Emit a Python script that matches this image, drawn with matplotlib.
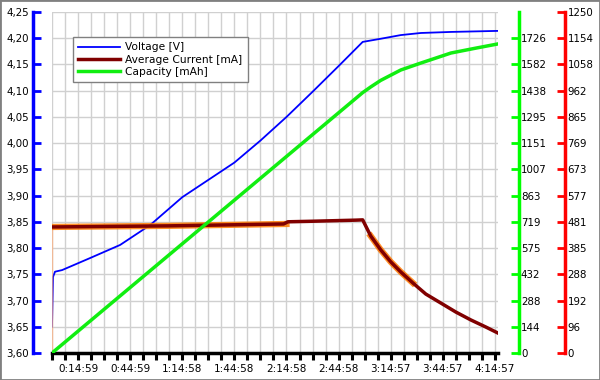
import numpy as np
import matplotlib.pyplot as plt
from matplotlib.patches import Rectangle

# time axis in seconds
volt_t = [0, 35, 104, 346, 1316, 2354, 3393, 4500, 5401, 6301, 7201, 8101, 9001, 9901, 10732,
          11355, 12048, 12740, 13779, 15406]
volt_v = [3.650, 3.745, 3.755, 3.758, 3.781, 3.806, 3.844, 3.897, 3.930, 3.963, 4.005, 4.050,
          4.098, 4.147, 4.193, 4.199, 4.206, 4.210, 4.212, 4.214]

# average current [mA]
cur_t = [0, 4000, 8000, 8150, 9000, 10500, 10732, 11009, 11355, 11702, 12048, 12463, 12913, 13433, 13952, 14471, 14990, 15406]
cur_ma = [462, 466, 473, 481, 483, 487, 488, 429, 378, 334, 297, 257, 216, 183, 150, 121, 95, 73]

# raw current (orange band, only where it shows)
raw_t1 = [0, 4000, 8100]
raw_ma1 = [462, 466, 473]
raw_t2 = [11009, 11355, 11702, 12048, 12463]
raw_ma2 = [429, 378, 334, 297, 257]

# capacity [mAh]
cap_t = [0, 10732, 11009, 11355, 12048, 12740, 13779, 14644, 15406]
cap_mah = [0, 1428, 1459, 1495, 1552, 1590, 1645, 1672, 1695]

x_labels = ['0:14:59', '0:44:59', '1:14:58', '1:44:58', '2:14:58',
            '2:44:58', '3:14:57', '3:44:57', '4:14:57']

t_end = 15406
v_min, v_max = 3.60, 4.25
cap_max = 1870
cur_max = 1250
n_div = 13
fs = 7.4

fig = plt.figure(figsize=(6, 3.8), dpi=100)
ax = fig.add_axes([52/600, 1-353/380, (498-52)/600, (353-12)/380])
ax_cur = ax.twinx()
ax_cap = ax.twinx()

# spines first (set_position resets the ticks)
for a in (ax, ax_cur, ax_cap):
    for s in a.spines.values():
        s.set_visible(False)
ax.spines['left'].set_visible(True)
ax.spines['left'].set_color('#0000ff')
ax.spines['left'].set_linewidth(2.5)
ax.spines['left'].set_position(('outward', 13.5))
ax.spines['bottom'].set_visible(True)
ax.spines['bottom'].set_color('black')
ax.spines['bottom'].set_linewidth(2.5)

ax_cap.spines['right'].set_visible(True)
ax_cap.spines['right'].set_color('#00ff00')
ax_cap.spines['right'].set_linewidth(2.5)
ax_cap.spines['right'].set_position(('outward', 15))

ax_cur.spines['right'].set_visible(True)
ax_cur.spines['right'].set_color('#ff0000')
ax_cur.spines['right'].set_linewidth(2.5)
ax_cur.spines['right'].set_position(('outward', 48))

ax.tick_params(axis='y', direction='in', color='#0000ff', length=6, width=2, pad=3, labelsize=fs)
ax.tick_params(axis='x', direction='out', color='black', length=5, width=2.2, pad=3, labelsize=7.5)
ax_cap.tick_params(axis='y', direction='in', color='#00ff00', length=6, width=2, pad=1.5, labelsize=fs)
ax_cur.tick_params(axis='y', direction='in', color='#ff0000', length=6, width=2, pad=2, labelsize=fs)

# grid / ticks
ticks_x = np.arange(0, t_end, 450)
ax.set_xticks(ticks_x)
lbls = [''] * len(ticks_x)
for k, s in enumerate(x_labels):
    lbls[2 + 4*k] = s
ax.set_xticklabels(lbls)
v_ticks = np.linspace(v_min, v_max, n_div + 1)
ax.set_yticks(v_ticks)
ax.set_yticklabels([f'{v:.2f}'.replace('.', ',') for v in v_ticks])
ax.grid(True, color='#d0d0d0', lw=1)
ax.set_axisbelow(True)
ax.set_xlim(0, t_end)
ax.set_ylim(v_min, v_max)

# voltage
l_v, = ax.plot(volt_t, volt_v, color='#0000ff', lw=1.3, label='Voltage [V]')

# current
ax_cur.plot([0, 0], [0, 462], color='#ffb080', lw=1, alpha=0.7)
ax_cur.plot(raw_t1, raw_ma1, color='#ff7a00', lw=4.5, alpha=0.85)
ax_cur.plot(raw_t2, raw_ma2, color='#ff7a00', lw=4.5, alpha=0.85)
l_c, = ax_cur.plot(cur_t, cur_ma, color='#800000', lw=2.5, label='Average Current [mA]')
ax_cur.set_ylim(0, cur_max)
c_ticks = np.linspace(0, cur_max, n_div + 1)
ax_cur.set_yticks(c_ticks)
ax_cur.set_yticklabels([f'{round(c):d}' for c in c_ticks])

# capacity
l_k, = ax_cap.plot(cap_t, cap_mah, color='#11ee11', lw=2.5, label='Capacity [mAh]')
ax_cap.set_ylim(0, cap_max)
k_ticks = np.linspace(0, cap_max, n_div + 1)[:-1]
ax_cap.set_yticks(k_ticks)
ax_cap.set_yticklabels([f'{round(c):d}' for c in k_ticks])

leg = ax_cap.legend(handles=[l_v, l_c, l_k], loc='upper left',
                    bbox_to_anchor=(73/600, 1-37/380), bbox_transform=fig.transFigure,
                    borderaxespad=0, fancybox=False, framealpha=1, edgecolor='#808080',
                    fontsize=7.7, handlelength=3.9, handletextpad=0.5,
                    borderpad=0.5, labelspacing=0.22)
leg.get_frame().set_linewidth(1)

fig.patches.append(Rectangle((0, 0), 1, 1, transform=fig.transFigure, fill=False,
                             edgecolor='#808080', lw=2))

fig.savefig('out.png', dpi=100)
